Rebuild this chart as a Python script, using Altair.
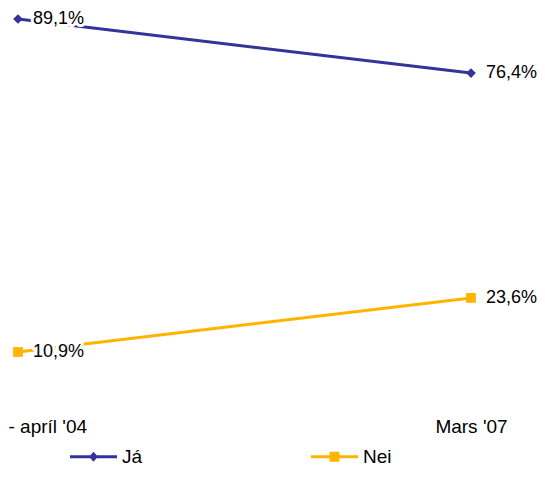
import altair as alt
import pandas as pd

periods = ["- apríl '04", "Mars '07"]
series_names = ["Já", "Nei"]
ja_values = [89.1, 76.4]
nei_values = [10.9, 23.6]
colors = ["#333399", "#FFB400"]
marker_shapes = ["diamond", "square"]
legend_paths = [
    "M-1,-0.064L1,-0.064L1,0.064L-1,0.064Z M-0.19,0L0,-0.21L0.19,0L0,0.21Z",
    "M-1,-0.064L1,-0.064L1,0.064L-1,0.064Z M-0.21,-0.21L0.21,-0.21L0.21,0.21L-0.21,0.21Z",
]

rows = []
for s, vals in zip(series_names, [ja_values, nei_values]):
    for p, v in zip(periods, vals):
        rows.append({"period": p, "series": s, "value": v})
df = pd.DataFrame(rows)

FONT = "Liberation Sans, Arial, sans-serif"

x = alt.X(
    "period:N",
    sort=periods,
    scale=alt.Scale(type="point", padding=0),
    axis=alt.Axis(
        title=None, domain=False, ticks=False, grid=False, labelAngle=0,
        labelFont=FONT, labelFontSize=19, labelColor="black",
        labelPadding=74, labelBaseline="middle",
        labelAlign={"condition": {"test": "datum.index == 0", "value": "left"}, "value": "center"},
        labelOffset={"condition": {"test": "datum.index == 0", "value": -10}, "value": 0},
    ),
)
y = alt.Y("value:Q", scale=alt.Scale(zero=False, nice=False), axis=None)

def col():
    return alt.Color("series:N", scale=alt.Scale(domain=series_names, range=colors), legend=None)

base = alt.Chart(df)

lines = base.mark_line(strokeWidth=3).encode(x=x, y=y, color=col())
points = base.mark_point(filled=True, size=95, opacity=1).encode(
    x=x, y=y, color=col(),
    shape=alt.Shape("series:N", scale=alt.Scale(domain=series_names, range=marker_shapes), legend=None),
)

lab = base.transform_calculate(label="replace(format(datum.value, '.1f'), '.', ',') + '%'")
halo = lab.mark_text(align="left", baseline="middle", dx=15, font=FONT, fontSize=18,
                     fill="white", stroke="white", strokeWidth=6, strokeJoin="round").encode(
    x=x, y=y, text="label:N")
text = lab.mark_text(align="left", baseline="middle", dx=15, font=FONT, fontSize=18,
                     color="black").encode(x=x, y=y, text="label:N")

leg_props = dict(
    orient="none", legendX=52, legendY=414, direction="horizontal", title=None,
    labelFont=FONT, labelFontSize=19, labelColor="black", symbolSize=2209,
    symbolStrokeWidth=0, labelOffset=5, columnPadding=168, padding=0,
)
legend_layer = base.transform_filter("false").mark_point(filled=True, opacity=1).encode(
    color=alt.Color("series:N", scale=alt.Scale(domain=series_names, range=colors),
                    legend=alt.Legend(**leg_props)),
    shape=alt.Shape("series:N", scale=alt.Scale(domain=series_names, range=legend_paths),
                    legend=alt.Legend(**leg_props)),
)

chart = alt.layer(lines, points, halo, text, legend_layer).resolve_scale(
    color="independent", shape="independent"
).properties(
    width=453, height=333,
    padding={"left": 10, "top": 11, "right": 66, "bottom": 117},
    autosize=alt.AutoSizeParams(type="none"),
    background="white",
).configure_view(stroke=None)

chart.save("out.html", embed_options={"renderer": "svg", "actions": False})
